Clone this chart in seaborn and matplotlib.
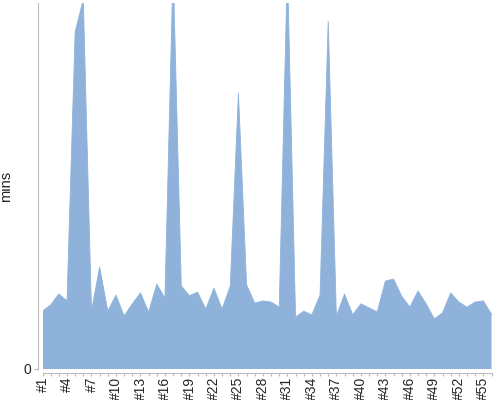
import matplotlib
matplotlib.use("Agg")
import matplotlib.pyplot as plt
import pandas as pd
import seaborn as sns

# session lengths (arbitrary units, axis top = 100)
sessions = ["#%d" % i for i in range(1, 57)]
mins = [15.8, 17.5, 20.5, 18.6, 92.1, 101.0, 15.8, 27.9, 15.8, 20.2,
        14.5, 17.8, 20.8, 15.6, 23.2, 19.4, 110.0, 22.7, 20.0, 21.0,
        16.4, 22.1, 16.4, 22.7, 75.4, 23.0, 18.0, 18.6, 18.3, 16.9,
        110.0, 14.2, 15.8, 14.8, 20.2, 95.0, 14.5, 20.5, 14.8, 17.8,
        16.7, 15.6, 24.0, 24.6, 19.9, 16.9, 21.3, 17.8, 13.7, 15.3,
        20.8, 18.3, 16.9, 18.3, 18.6, 15.0]

df = pd.DataFrame({"session": sessions, "mins": mins})
df["pos"] = range(1, len(df) + 1)

sns.set_style("white")
plt.rcParams["font.family"] = ["Liberation Sans", "DejaVu Sans"]

fig = plt.figure(figsize=(5, 4), dpi=100)
ax = fig.add_axes([0.085, 0.0775, 0.898, 0.915])

col = "#8fb2db"
ax.fill_between(df["pos"], 0, df["mins"], color=col, linewidth=0)
sns.lineplot(data=df, x="pos", y="mins", color=col, linewidth=0.6, ax=ax)

ax.set_xlim(1, len(df))
ax.set_ylim(0, 100)
ax.set_xticks(df["pos"])
ax.set_xticklabels([s if (i % 3 == 0) else "" for i, s in enumerate(df["session"])],
                   fontsize=7, color="#222222")
ax.set_yticks([0])
ax.set_yticklabels(["0"], fontsize=8.5, color="#444444")
ax.set_xlabel("")
ax.set_ylabel("mins", fontsize=10.5, color="#222222")
ax.yaxis.set_label_coords(-0.066, 0.5)

for s in ["top", "right"]:
    ax.spines[s].set_visible(False)
ax.spines["left"].set_color("#bbbbbb")
ax.spines["bottom"].set_color("#bbbbbb")
ax.spines["left"].set_position(("outward", 3))
ax.spines["bottom"].set_position(("outward", 3))
ax.tick_params(axis="x", length=2, width=0.8, color="#bbbbbb", pad=0.5,
               labelrotation=90)
ax.tick_params(axis="y", length=3, width=0.8, color="#bbbbbb", pad=2)
ax.tick_params(bottom=True, left=True)

fig.savefig("out.png", dpi=100)
